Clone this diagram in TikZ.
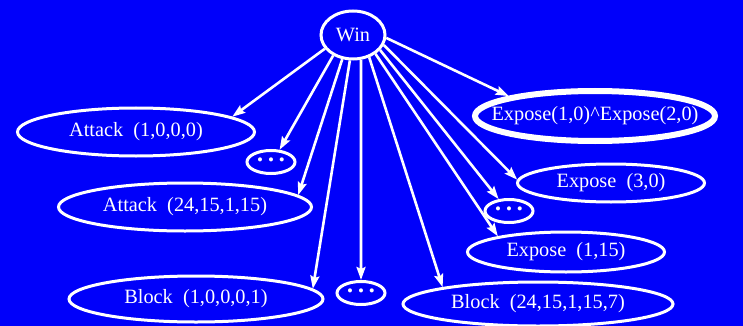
\documentclass[tikz,border=0pt]{standalone}
\usepackage{fontspec}
\setmainfont{Liberation Serif}
\usetikzlibrary{shapes.geometric,arrows.meta,positioning}
\definecolor{bgblue}{RGB}{0,0,250}
\newcommand{\threedots}{\textbullet\hspace{5pt}\textbullet\hspace{5pt}\textbullet}

\begin{document}
\begin{tikzpicture}[x=1pt, y=-1pt,
  every node/.style={font=\fontsize{20.3}{22}\selectfont, text=white},
  oval/.style={ellipse, draw=white, line width=3pt, inner sep=0pt},
  bigoval/.style={oval, line width=6pt, inner xsep=-45pt},
  dots/.style={oval, minimum width=48pt, minimum height=23pt, font=\fontsize{17}{17}\selectfont},
  edge/.style={draw=white, line width=2.6pt, -{Stealth[length=13pt,width=9pt,inset=2pt]}}]
  % background
  \fill[bgblue] (0,0) rectangle (743,326);
  \useasboundingbox (0,0) rectangle (743,326);
  % root
  \node[oval, minimum width=64pt, minimum height=48pt] (win) at (353,35) {Win};
  % left side
  \node[oval, minimum width=237pt, minimum height=48pt] (attA) at (136,132) {Attack\ \ (1,0,0,0)};
  \node[dots] (dotsA) at (271,162) {\threedots};
  \node[oval, minimum width=253pt, minimum height=48pt] (attB) at (185,207) {Attack\ \ (24,15,1,15)};
  % bottom
  \node[oval, minimum width=254pt, minimum height=46pt] (blkA) at (196,299) {Block\ \ (1,0,0,0,1)};
  \node[dots] (dotsC) at (361,293) {\threedots};
  \node[oval, minimum width=270pt, minimum height=44pt] (blkB) at (538,304) {Block\ \ (24,15,1,15,7)};
  % right side
  \node[bigoval, minimum width=240pt, minimum height=50pt] (expAB) at (595,116) {Expose(1,0)\textasciicircum Expose(2,0)};
  \node[oval, minimum width=187pt, minimum height=38pt] (expC) at (611,183) {Expose\ \ (3,0)};
  \node[dots] (dotsB) at (509,211) {\threedots};
  \node[oval, minimum width=197pt, minimum height=40pt] (expD) at (566,252) {Expose\ \ (1,15)};
  % edges
  \foreach \t/\a/\b in {attA/206/9, dotsA/226/55, attB/246/6, blkA/263/5,
                        dotsC/288/90, blkB/306/170, expD/320/167,
                        dotsB/331/131, expC/342/178, expAB/355/167} {
    \draw[edge] (win.\a) -- (\t.\b);
  }
\end{tikzpicture}
\end{document}
